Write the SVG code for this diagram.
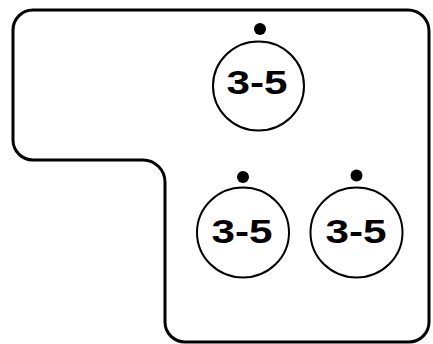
<svg xmlns="http://www.w3.org/2000/svg" width="433" height="344" viewBox="0 0 433 344">
<style>
.outline{fill:none;stroke:#000;stroke-width:3;stroke-linejoin:round}
.ring{fill:#fff;stroke:#000;stroke-width:2}
.dot{fill:#000}
.lbl{font-family:"Liberation Sans",Arial,sans-serif;font-weight:bold;font-size:34px;fill:#000;text-anchor:middle}
</style>
<rect width="433" height="344" fill="#fff"/>
<g id="panel">
<path class="outline" d="M 33 10 H 408 A 21 21 0 0 1 429 31 V 322 A 20 20 0 0 1 409 342 H 185 A 20 20 0 0 1 165 322 V 182 A 22 22 0 0 0 143 160 H 33 A 20 20 0 0 1 13 140 V 30 A 20 20 0 0 1 33 10 Z"/>
</g>
<g id="node-top">
<circle class="dot" cx="260" cy="29" r="6"/>
<ellipse class="ring" cx="258.5" cy="86" rx="45.5" ry="44.5"/>
<text class="lbl" x="257" y="94" textLength="61" lengthAdjust="spacingAndGlyphs">3-5</text>
</g>
<g id="node-bottom-left">
<circle class="dot" cx="243" cy="177" r="6"/>
<ellipse class="ring" cx="243" cy="232.5" rx="46" ry="45"/>
<text class="lbl" x="242" y="243" textLength="61" lengthAdjust="spacingAndGlyphs">3-5</text>
</g>
<g id="node-bottom-right">
<circle class="dot" cx="356.5" cy="175.5" r="6"/>
<ellipse class="ring" cx="356.5" cy="232.5" rx="46" ry="45"/>
<text class="lbl" x="356" y="243" textLength="61" lengthAdjust="spacingAndGlyphs">3-5</text>
</g>
</svg>
